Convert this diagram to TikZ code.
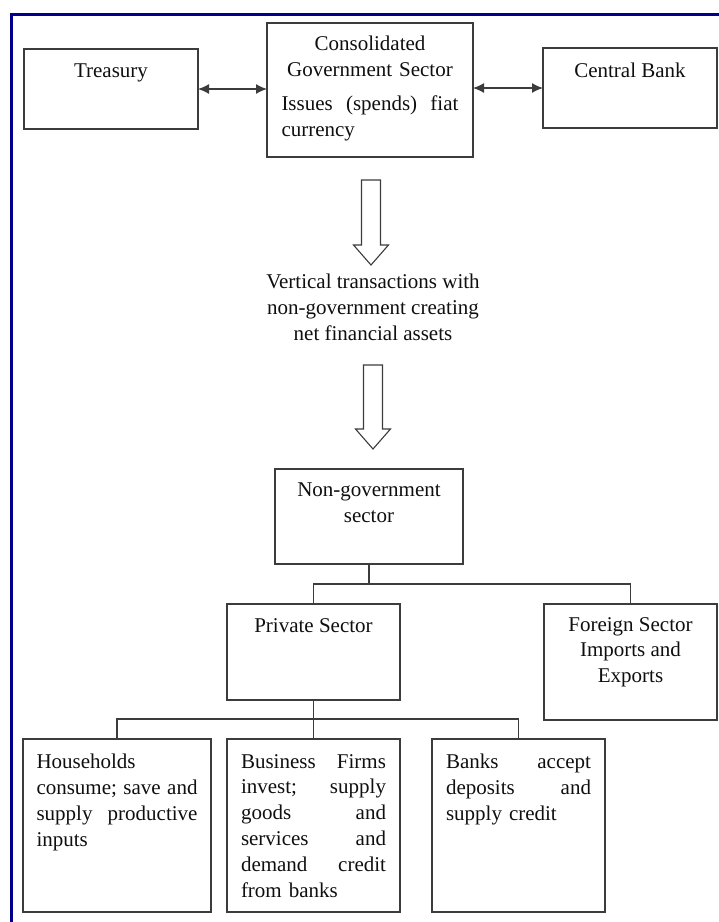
\documentclass[tikz,border=0pt]{standalone}
\usepackage{fontspec}
\setmainfont{Liberation Serif}
\usetikzlibrary{arrows.meta,calc}
\definecolor{frameblue}{RGB}{0,0,140}
\definecolor{boxline}{RGB}{60,60,60}
\definecolor{txt}{RGB}{15,15,15}
\tikzset{
  box/.style={draw=boxline,line width=1.3pt,anchor=north west,inner sep=0pt,outer sep=0pt},
  lbl/.style={anchor=north,inner sep=0pt,text=txt,font=\boxfont},
  link/.style={draw=boxline,line width=1.3pt},
  fat/.style={draw=boxline,line width=1.1pt,fill=white},
  dbl/.style={link,>={Latex[length=11pt,width=10pt]},<->}
}
\newcommand{\boxfont}{\fontsize{21}{25.8}\selectfont}
\newcommand{\jline}[1]{\makebox[\hsize][s]{#1}}
\newcommand{\fatarrow}[2]{%
  \draw[fat] ($(#1)+(-9.5,0)$) -- ($(#2)+(-9.5,-20)$) -- ($(#2)+(-17.5,-20)$)
    -- (#2) -- ($(#2)+(17.5,-20)$) -- ($(#2)+(9.5,-20)$) -- ($(#1)+(9.5,0)$) -- cycle;}

\begin{document}
\begin{tikzpicture}[x=1pt,y=-1pt]
  \useasboundingbox (0,0) rectangle (719,922);
  \draw[frameblue,line width=3.5pt] (11.5,922) -- (11.5,14.5) -- (719,14.5);

  % government side
  \node[box,minimum width=174pt,minimum height=80pt,
    label={[lbl,yshift=-15pt]north:Treasury}] (treasury) at (24,49) {};
  \node[box,minimum width=206pt,minimum height=134pt,
    label={[lbl,yshift=-12.5pt,text width=177pt,align=center]north:{Consolidated\\Government Sector\\[9pt]\jline{Issues\hfill (spends)\hfill fiat}\\\makebox[\hsize][l]{currency}}}] (cons) at (267,23) {};
  \node[box,minimum width=174pt,minimum height=80pt,
    label={[lbl,yshift=-15pt]north:Central Bank}] (central) at (543,48) {};
  \draw[dbl] (treasury.east) -- (treasury.east -| cons.west);
  \draw[dbl] (central.west) -- (central.west -| cons.east);

  % vertical flow
  \coordinate (a1s) at (371,180);
  \coordinate (a1e) at (371,265);
  \node[lbl,align=center] (vert) at (373,274) {Vertical transactions with\\non-government creating\\net financial assets};
  \coordinate (a2s) at (373,365);
  \coordinate (a2e) at (373,449);
  \fatarrow{a1s}{a1e}
  \fatarrow{a2s}{a2e}

  % non-government side
  \node[box,minimum width=188pt,minimum height=95pt,
    label={[lbl,yshift=-14pt,align=center]north:{Non-government\\sector}}] (nongov) at (275,469) {};
  \node[box,minimum width=173pt,minimum height=96pt,
    label={[lbl,yshift=-14pt]north:Private Sector}] (private) at (227,604) {};
  \node[box,minimum width=173pt,minimum height=116pt,
    label={[lbl,yshift=-13pt,align=center]north:{Foreign Sector\\Imports and\\Exports}}] (foreign) at (544,604) {};
  \node[box,minimum width=188pt,minimum height=173pt,
    label={[lbl,yshift=-15pt,text width=161pt,align=left]north:{Households\\\jline{consume;\hfill save\hfill and}\\\jline{supply\hfill productive}\\inputs}}] (house) at (23,739) {};
  \node[box,minimum width=173pt,minimum height=173pt,
    label={[lbl,yshift=-15pt,text width=145pt,align=left]north:{\jline{Business\hfill Firms}\\\jline{invest;\hfill supply}\\\jline{goods\hfill and}\\\jline{services\hfill and}\\\jline{demand\hfill credit}\\from banks}}] (business) at (227,739) {};
  \node[box,minimum width=173pt,minimum height=173pt,
    label={[lbl,yshift=-15pt,text width=145pt,align=left]north:{\jline{Banks\hfill accept}\\\jline{deposits\hfill and}\\supply credit}}] (banks) at (432,739) {};

  \draw[link] (nongov.south) -- ++(0,20) -| (private.north);
  \draw[link] (nongov.south) -- ++(0,20) -| (foreign.north);
  \draw[link] (private.south) -- ++(0,19) -| (house.north);
  \draw[link] (private.south) -- (business.north);
  \draw[link] (private.south) -- ++(0,19) -| (banks.north);
\end{tikzpicture}
\end{document}
